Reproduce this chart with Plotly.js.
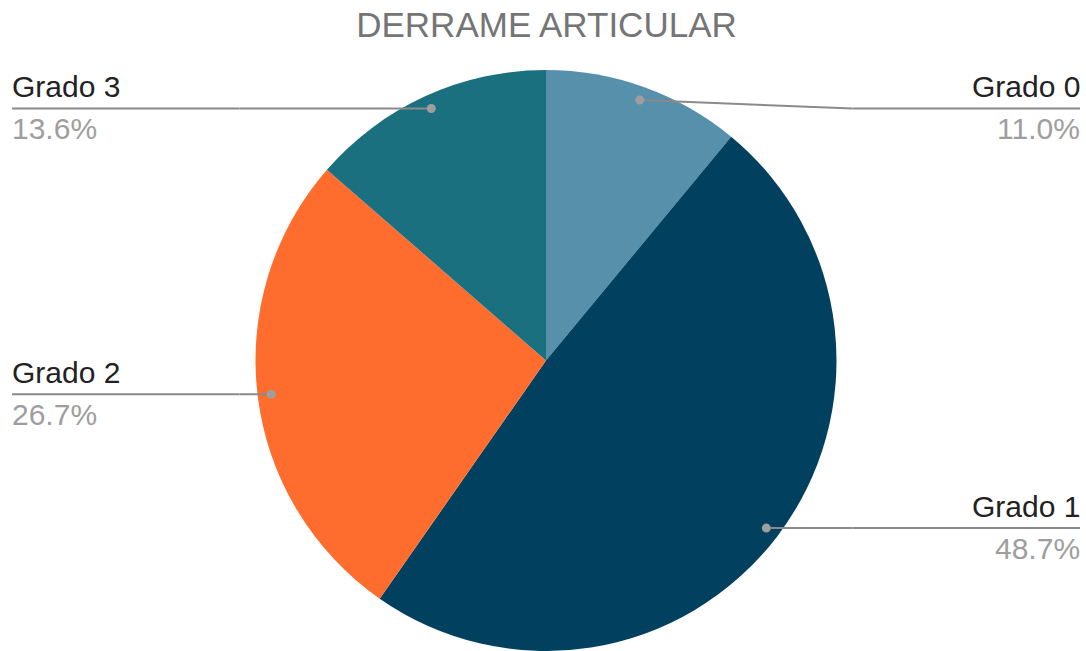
<!DOCTYPE html>
<html>
<head>
<meta charset="utf-8">
<script src="https://cdn.plot.ly/plotly-3.0.1.min.js"></script>
<style>
html,body{margin:0;padding:0;overflow:hidden;background:#fff;}
#chart{width:1086px;height:651px;}
</style>
</head>
<body>
<div id="chart"></div>
<script>
// Data
const labels = ['Grado 0', 'Grado 1', 'Grado 2', 'Grado 3'];
const values = [11.0, 48.7, 26.7, 13.6];
const colors = ['#5690ab', '#01405e', '#ff6d2e', '#1b7080'];
const chartTitle = 'DERRAME ARTICULAR';

// Layout geometry (pixels)
const W = 1086, H = 651;
const M = {l: 6, r: 0, t: 70, b: 0};
const plotW = W - M.l - M.r, plotH = H - M.t - M.b;
const cx = M.l + plotW / 2, cy = M.t + plotH / 2;
const R = Math.min(plotW, plotH) / 2;
const dotR = R * 0.953;
const minLineY = 108.5;
const leftEdge = 12, rightEdge = 1080;
const FONT = 'Liberation Sans, Arial, sans-serif';

const px2x = p => (p - M.l) / plotW;
const py2y = p => (H - M.b - p) / plotH;

const total = values.reduce((a, b) => a + b, 0);
const shapes = [], annotations = [];
let cum = 0;
values.forEach((v, i) => {
  const mid = (cum + v / 2) / total * 2 * Math.PI;
  cum += v;
  const dx = cx + Math.sin(mid) * dotR;
  const dy = cy - Math.cos(mid) * dotR;
  const right = Math.sin(mid) >= 0;
  const lineY = Math.max(dy, minLineY);
  const bendX = right ? cx + R + 16 : cx - R - 16;
  const endX = right ? rightEdge : leftEdge;
  const textX = right ? endX + 2 : endX - 2;
  shapes.push({type: 'line', xref: 'paper', yref: 'paper',
    x0: px2x(dx), y0: py2y(dy), x1: px2x(bendX), y1: py2y(lineY),
    line: {color: '#8a8a8a', width: 2}});
  shapes.push({type: 'line', xref: 'paper', yref: 'paper',
    x0: px2x(bendX), y0: py2y(lineY), x1: px2x(endX), y1: py2y(lineY),
    line: {color: '#8a8a8a', width: 2}});
  shapes.push({type: 'circle', xref: 'paper', yref: 'paper',
    xsizemode: 'pixel', ysizemode: 'pixel',
    xanchor: px2x(dx), yanchor: py2y(dy),
    x0: -4.5, x1: 4.5, y0: -4.5, y1: 4.5,
    fillcolor: '#9e9e9e', line: {width: 0}});
  annotations.push({xref: 'paper', yref: 'paper', showarrow: false,
    x: px2x(textX), y: py2y(lineY - 22),
    xanchor: right ? 'right' : 'left', yanchor: 'middle',
    text: labels[i], font: {family: FONT, size: 30, color: '#222222'}});
  annotations.push({xref: 'paper', yref: 'paper', showarrow: false,
    x: px2x(textX), y: py2y(lineY + 20),
    xanchor: right ? 'right' : 'left', yanchor: 'middle',
    text: (v / total * 100).toFixed(1) + '%',
    font: {family: FONT, size: 30, color: '#9e9e9e'}});
});

const trace = {
  type: 'pie', labels: labels, values: values,
  marker: {colors: colors, line: {width: 0}},
  sort: false, direction: 'clockwise', rotation: 0,
  textinfo: 'none', hoverinfo: 'label+percent',
  domain: {x: [0, 1], y: [0, 1]}
};

const layout = {
  width: W, height: H, margin: M,
  paper_bgcolor: '#ffffff', plot_bgcolor: '#ffffff',
  showlegend: false,
  title: {text: chartTitle, x: 546.5 / W, xref: 'container', xanchor: 'center',
    y: 1 - 25 / H, yref: 'container', yanchor: 'middle',
    font: {family: FONT, size: 35, color: '#757575'}},
  shapes: shapes, annotations: annotations
};

Plotly.newPlot('chart', [trace], layout, {displayModeBar: false, staticPlot: true});
</script>
</body>
</html>
